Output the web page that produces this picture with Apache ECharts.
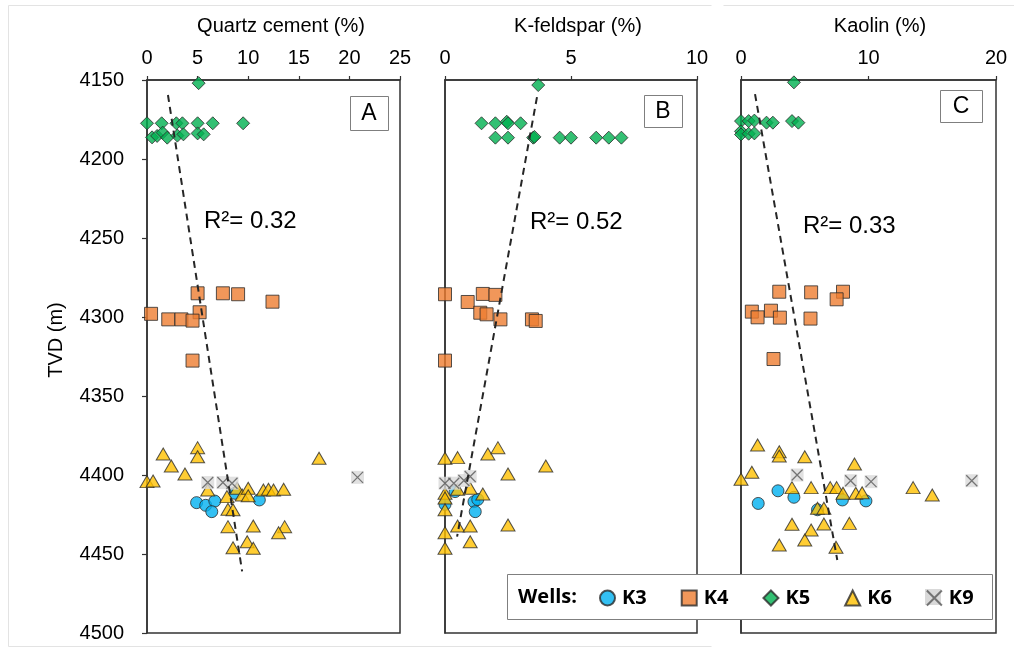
<!DOCTYPE html>
<html>
<head>
<meta charset="utf-8">
<script src="https://cdn.jsdelivr.net/npm/echarts@6/dist/echarts.min.js"></script>
<style>
  html, body { margin: 0; padding: 0; background: #ffffff; }
  #chart { width: 1014px; height: 647px; }
</style>
</head>
<body>
<div id="chart"></div>
<script>
// Depth axis (TVD, m)
const depthMin = 4150;
const depthMax = 4500;
const depthStep = 50;

// Panel titles and x ranges
const panelTitles = ['Quartz cement (%)', 'K-feldspar (%)', 'Kaolin (%)'];
const panelLetters = ['A', 'B', 'C'];
const panelXMax = [25, 10, 20];
const panelXStep = [5, 5, 10];
const panelR2 = ['R\u00b2= 0.32', 'R\u00b2= 0.52', 'R\u00b2= 0.33'];

const wellNames = ['K3', 'K4', 'K5', 'K6', 'K9'];

// Panel A: quartz cement [%, depth]
const quartzK3 = [[4.9,4417.5],[5.8,4419.2],[6.7,4416.5],[6.4,4423.2],[8.7,4411.6],[11.1,4415.8]];
const quartzK4 = [[5.0,4285],[7.5,4285],[9.0,4285.6],[12.4,4290.3],[0.4,4298],[5.2,4297],[2.1,4301.5],[3.4,4301.5],[4.5,4302.3],[4.5,4327.6]];
const quartzK5 = [[5.1,4152],[0,4177.4],[1.45,4177.4],[2.9,4177.4],[3.5,4177.4],[5.0,4177.4],[6.5,4177.4],[9.5,4177.4],
  [0.5,4186.3],[1.0,4185.4],[1.55,4183.3],[2.0,4186.5],[3.0,4185.2],[3.6,4184.4],[5.0,4183.8],[5.6,4184.4]];
const quartzK6 = [[0,4404.2],[0.6,4403.8],[1.6,4386.7],[2.4,4394.3],[3.75,4399.4],[5.0,4382.7],[5.0,4388.4],[6.0,4409.5],
  [7.9,4413.7],[8.0,4421.7],[8.5,4422],[8.0,4432.7],[8.5,4446],[8.9,4408.4],[9.9,4442.2],[10.5,4446.4],[10.5,4432.3],
  [9.4,4412.7],[10.0,4408.4],[10.0,4413.1],[11.5,4409.5],[12.0,4409],[12.5,4409.5],[13.5,4409],[13.6,4432.7],[13.0,4436.5],[17.0,4389.4]];
const quartzK9 = [[6.0,4404.8],[7.5,4404.8],[8.4,4405.2],[20.8,4401.5]];
const quartzTrend = [[2.07,4159.5],[9.4,4461]];

// Panel B: K-feldspar [%, depth]
const feldsparK3 = [[0,4418.6],[0.4,4410.5],[1.15,4416.9],[1.3,4415.5],[1.2,4423.2]];
const feldsparK4 = [[0,4285.6],[1.5,4285.4],[2.0,4286],[0.9,4290.5],[1.4,4297.3],[1.65,4298.3],[2.2,4301.5],[3.45,4301.5],[3.6,4302.5],[0,4327.6]];
const feldsparK5 = [[3.7,4153.2],[1.45,4177.4],[2.0,4177.4],[2.45,4176.4],[2.5,4177.4],[3.0,4177.4],[2.0,4186.5],[2.5,4186.5],
  [3.5,4186.5],[3.55,4186],[4.55,4186.5],[5.0,4186.5],[6.0,4186.5],[6.5,4186.5],[7.0,4186.5]];
const feldsparK6 = [[0,4389.4],[0.5,4389],[1.7,4386.7],[2.1,4382.7],[4.0,4394.3],[2.5,4399.4],[0,4411.6],[0,4414.6],[0,4422],
  [0.5,4409],[1.0,4408.4],[1.5,4412],[0,4436.5],[0,4446.4],[0.5,4432.3],[1.0,4432.3],[1.0,4442.2],[2.5,4431.6]];
const feldsparK9 = [[0,4405.2],[0.35,4405.2],[0.75,4403.5],[1.0,4401]];
const feldsparTrend = [[3.65,4160.8],[0.48,4439]];

// Panel C: kaolin [%, depth]
const kaolinK3 = [[1.35,4418],[2.9,4410],[4.15,4414.1],[6.0,4422],[7.95,4415.8],[9.8,4416.4]];
const kaolinK4 = [[3.0,4284],[5.5,4284.4],[8.0,4284],[7.5,4288.8],[0.85,4296.6],[2.35,4296],[1.3,4300.2],[3.05,4300.4],[5.45,4301],[2.55,4326.6]];
const kaolinK5 = [[4.15,4151.5],[0,4176],[0.6,4176],[1.05,4175.7],[2.0,4177],[2.5,4177],[4.0,4176],[4.5,4177],
  [0,4182.5],[0,4184.5],[0.6,4184],[1.05,4183.8]];
const kaolinK6 = [[0,4402.7],[0.85,4398.3],[1.3,4381],[3.0,4385.3],[3.0,4388],[5.0,4388.4],[8.9,4393],[4.0,4408],[5.5,4408],
  [7.0,4408],[7.5,4408],[8.0,4411.6],[9.0,4411.6],[9.5,4411.2],[13.5,4408],[15.0,4412.7],[6.0,4421],[6.5,4421],[4.0,4431.2],
  [5.5,4434.8],[6.5,4431],[8.5,4430.6],[3.0,4444.3],[5.0,4441.1],[7.45,4445.7]];
const kaolinK9 = [[4.4,4400],[8.6,4403.6],[10.2,4404.2],[18.1,4403.6]];
const kaolinTrend = [[1.1,4158.9],[7.55,4453.8]];

const panelData = [
  [quartzK3, quartzK4, quartzK5, quartzK6, quartzK9, quartzTrend],
  [feldsparK3, feldsparK4, feldsparK5, feldsparK6, feldsparK9, feldsparTrend],
  [kaolinK3, kaolinK4, kaolinK5, kaolinK6, kaolinK9, kaolinTrend]
];

// Layout
const grids = [
  { left: 147, top: 80, width: 253, height: 553 },
  { left: 445, top: 80, width: 252, height: 553 },
  { left: 741, top: 80, width: 255, height: 553 }
];
const FONT = "'Liberation Sans', Arial, sans-serif";
const LEGEND_FONT = "'Open Sans', sans-serif";
const frameColor = '#333333';
const markerBorder = { borderColor: '#2b2b2b', borderWidth: 1 };
const xPath = 'path://M0,0L10,10M10,0L0,10';

const wellStyles = {
  K3: { symbol: 'circle', symbolSize: 12, itemStyle: Object.assign({ color: '#00B0F0' }, markerBorder), z: 3 },
  K4: { symbol: 'rect', symbolSize: 13, itemStyle: Object.assign({ color: '#ED7D31' }, markerBorder), z: 4 },
  K5: { symbol: 'diamond', symbolSize: 13, itemStyle: Object.assign({ color: '#00B050' }, markerBorder), z: 5 },
  K6: { symbol: 'triangle', symbolSize: [14, 12], itemStyle: Object.assign({ color: '#FFC000' }, markerBorder), z: 6 },
  K9: { symbol: xPath, symbolSize: 11, itemStyle: { color: '#595959', borderColor: '#595959', borderWidth: 1.3 }, z: 8 }
};

const xAxes = [], yAxes = [], gridOpts = [], series = [], graphics = [];

grids.forEach((g, i) => {
  gridOpts.push(Object.assign({ show: true, borderColor: frameColor, borderWidth: 1.5, backgroundColor: 'transparent' }, g));
  xAxes.push({
    type: 'value', gridIndex: i, position: 'top', min: 0, max: panelXMax[i], interval: panelXStep[i],
    axisLine: { show: true, lineStyle: { color: frameColor, width: 1.5 } },
    axisTick: { show: true, inside: false, length: 4, lineStyle: { color: frameColor, width: 1.2 } },
    axisLabel: { show: true, margin: 12, fontFamily: FONT, fontSize: 20, color: '#000' },
    splitLine: { show: false }
  });
  yAxes.push({
    type: 'value', gridIndex: i, inverse: true, min: depthMin, max: depthMax, interval: depthStep,
    axisLine: { show: true, lineStyle: { color: frameColor, width: 1.5 } },
    axisTick: { show: i === 0, length: 5, lineStyle: { color: frameColor, width: 1.2 } },
    axisLabel: { show: i === 0, margin: 23, fontFamily: FONT, fontSize: 20, color: '#000',
      formatter: v => String(v) },
    splitLine: { show: false }
  });

  const d = panelData[i];
  wellNames.forEach((w, k) => {
    if (w === 'K9') {
      series.push({
        type: 'scatter', name: 'K9 fill', xAxisIndex: i, yAxisIndex: i, data: d[k], clip: false, silent: true,
        symbol: 'rect', symbolSize: 13, itemStyle: { color: '#D9D9D9', borderWidth: 0 }, z: 7
      });
    }
    series.push(Object.assign({
      type: 'scatter', name: w, xAxisIndex: i, yAxisIndex: i, data: d[k], clip: false
    }, wellStyles[w]));
  });
  series.push({
    type: 'line', name: 'trend' + i, xAxisIndex: i, yAxisIndex: i, data: d[5], symbol: 'none', silent: true,
    lineStyle: { color: '#262626', width: 2, type: [7, 5] }, z: 10
  });
});

// Titles above each panel
const titleCenters = [281, 578, 880];
titleCenters.forEach((cx, i) => {
  graphics.push({ type: 'text', x: cx, y: 26, z: 20,
    style: { text: panelTitles[i], font: '20px ' + FONT, fill: '#000', textAlign: 'center', textVerticalAlign: 'middle' } });
});

// R² labels
const r2Pos = [[204, 221], [530, 222], [803, 226]];
r2Pos.forEach((p, i) => {
  graphics.push({ type: 'text', x: p[0], y: p[1], z: 20,
    style: { text: panelR2[i], font: '24px ' + FONT, fill: '#000', textAlign: 'left', textVerticalAlign: 'middle' } });
});

// Panel letter boxes
const letterBoxes = [[350, 96, 38, 34], [644, 95, 38, 32], [940, 90, 42, 32]];
letterBoxes.forEach((b, i) => {
  graphics.push({ type: 'rect', z: 20, shape: { x: b[0] + 0.5, y: b[1] + 0.5, width: b[2], height: b[3] },
    style: { fill: '#fff', stroke: '#7f7f7f', lineWidth: 1 } });
  graphics.push({ type: 'text', z: 21, x: b[0] + b[2] / 2, y: b[1] + b[3] / 2 + 1,
    style: { text: panelLetters[i], font: '23px ' + FONT, fill: '#000', textAlign: 'center', textVerticalAlign: 'middle' } });
});

// Depth axis name
graphics.push({ type: 'text', x: 56, y: 340, rotation: Math.PI / 2, z: 20,
  style: { text: 'TVD (m)', font: '20px ' + FONT, fill: '#000', textAlign: 'center', textVerticalAlign: 'middle' } });

// Faint figure outlines
const faint = '#e3e3e3';
[[8, 5, 711, 5], [8, 646, 711, 646], [8, 5, 8, 646], [723, 5, 1014, 5]].forEach(l => {
  graphics.push({ type: 'line', z: 0, shape: { x1: l[0] + 0.5, y1: l[1] + 0.5, x2: l[2] + 0.5, y2: l[3] + 0.5 },
    style: { stroke: faint, lineWidth: 1 } });
});

// Legend frame, caption, and the gray backdrop of the K9 key
graphics.push({ type: 'rect', z: 30, shape: { x: 507.5, y: 574.5, width: 485, height: 45 },
  style: { fill: '#fff', stroke: '#7f7f7f', lineWidth: 1 } });
graphics.push({ type: 'text', z: 31, x: 518, y: 597,
  style: { text: 'Wells:', font: 'bold 20px ' + LEGEND_FONT, fill: '#000', textAlign: 'left', textVerticalAlign: 'middle' } });
graphics.push({ type: 'rect', z: 31, shape: { x: 925, y: 589, width: 16, height: 16 },
  style: { fill: '#D9D9D9' } });

const option = {
  animation: false,
  backgroundColor: '#ffffff',
  grid: gridOpts,
  xAxis: xAxes,
  yAxis: yAxes,
  legend: {
    data: wellNames,
    left: 594, top: 583, orient: 'horizontal',
    itemWidth: 15, itemHeight: 15, itemGap: 34, z: 40,
    selectedMode: false,
    textStyle: { fontFamily: LEGEND_FONT, fontWeight: 'bold', fontSize: 20, color: '#000', padding: [0, 0, 0, 2] }
  },
  series: series,
  graphic: graphics
};

const chart = echarts.init(document.getElementById('chart'), null, { renderer: 'canvas' });
chart.setOption(option);
</script>
</body>
</html>
